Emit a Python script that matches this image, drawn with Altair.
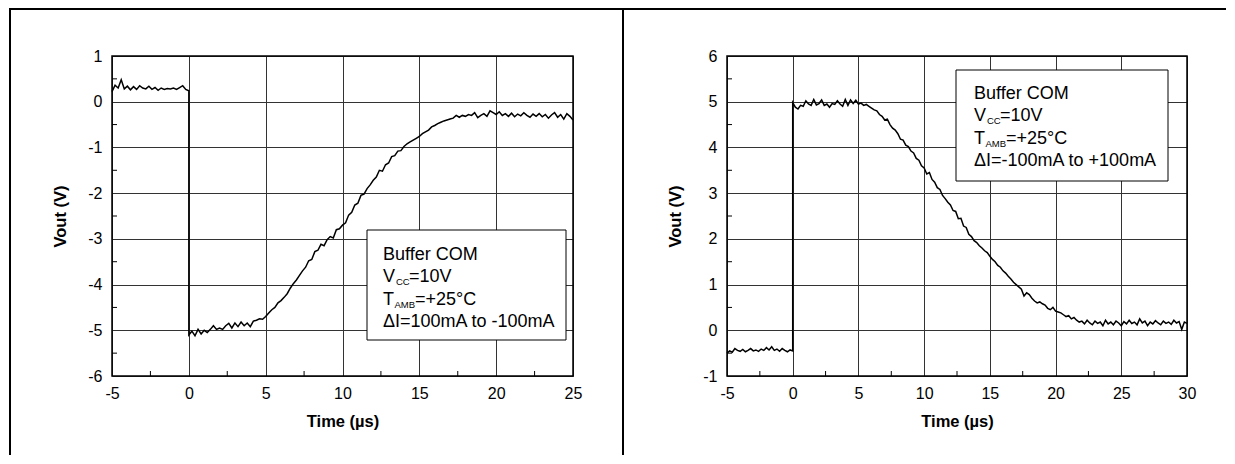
import altair as alt
import pandas as pd

FONT = "Liberation Sans"
STEP = 0.2  # sample spacing (µs) used when reading the traces

# ---------------- data ----------------
# Left panel: ΔI = 100mA to -100mA
left_pre_v = [0.22, 0.36, 0.30, 0.48, 0.28, 0.34, 0.26, 0.33, 0.27, 0.35,
              0.30, 0.28, 0.34, 0.27, 0.31, 0.25, 0.30, 0.27, 0.29, 0.28,
              0.30, 0.27, 0.31, 0.35, 0.27, 0.24]
left_post_v = [-5.10, -5.02, -5.12, -4.98, -5.08, -5.00, -5.05, -4.98, -4.90, -4.98,
               -4.95, -4.98, -4.90, -4.85, -4.95, -4.84, -4.92, -4.82, -4.90, -4.84,
               -4.92, -4.80, -4.78, -4.75, -4.76, -4.70, -4.62, -4.55, -4.50, -4.40,
               -4.35, -4.28, -4.20, -4.08, -3.98, -3.90, -3.80, -3.70, -3.62, -3.48,
               -3.45, -3.28, -3.25, -3.12, -3.15, -3.02, -2.95, -2.98, -2.80, -2.78,
               -2.70, -2.65, -2.48, -2.42, -2.26, -2.22, -2.05, -2.02, -1.90, -1.82,
               -1.72, -1.65, -1.50, -1.52, -1.38, -1.34, -1.20, -1.18, -1.08, -1.07,
               -0.98, -0.92, -0.88, -0.84, -0.80, -0.76, -0.70, -0.66, -0.62, -0.55,
               -0.52, -0.48, -0.45, -0.42, -0.40, -0.38, -0.36, -0.30, -0.34, -0.30,
               -0.32, -0.28, -0.30, -0.24, -0.35, -0.30, -0.26, -0.32, -0.20, -0.24,
               -0.28, -0.22, -0.30, -0.26, -0.32, -0.25, -0.33, -0.27, -0.31, -0.24,
               -0.30, -0.34, -0.27, -0.32, -0.26, -0.33, -0.28, -0.36, -0.29, -0.24,
               -0.34, -0.28, -0.38, -0.26, -0.32, -0.40]

# Right panel: ΔI = -100mA to +100mA
right_pre_v = [-0.50, -0.45, -0.48, -0.40, -0.44, -0.46, -0.42, -0.47, -0.44, -0.40,
               -0.45, -0.43, -0.46, -0.41, -0.44, -0.38, -0.43, -0.36, -0.44, -0.41,
               -0.46, -0.40, -0.44, -0.47, -0.43, -0.45]
right_post_v = [4.98, 4.88, 4.84, 4.92, 4.90, 5.02, 4.95, 4.92, 5.05, 4.93,
                4.96, 5.04, 4.92, 4.95, 4.88, 4.96, 4.94, 5.02, 4.95, 4.90,
                5.05, 4.92, 5.04, 4.96, 5.03, 4.95, 4.97, 4.92, 4.94, 4.90,
                4.86, 4.82, 4.80, 4.72, 4.68, 4.60, 4.62, 4.50, 4.42, 4.38,
                4.30, 4.18, 4.16, 4.05, 4.02, 3.92, 3.88, 3.76, 3.72, 3.60,
                3.55, 3.42, 3.45, 3.30, 3.24, 3.12, 3.08, 2.95, 2.88, 2.80,
                2.74, 2.62, 2.60, 2.44, 2.45, 2.28, 2.25, 2.10, 2.05, 1.96,
                1.92, 1.85, 1.80, 1.74, 1.70, 1.62, 1.55, 1.50, 1.42, 1.38,
                1.30, 1.25, 1.18, 1.12, 1.05, 1.00, 0.95, 0.90, 0.75, 0.82,
                0.78, 0.70, 0.64, 0.60, 0.62, 0.58, 0.55, 0.48, 0.45, 0.50,
                0.42, 0.40, 0.38, 0.34, 0.30, 0.32, 0.25, 0.28, 0.22, 0.18,
                0.20, 0.14, 0.22, 0.16, 0.12, 0.20, 0.15, 0.18, 0.10, 0.22,
                0.14, 0.18, 0.12, 0.20, 0.16, 0.10, 0.19, 0.14, 0.22, 0.15,
                0.18, 0.12, 0.25, 0.16, 0.20, 0.10, 0.18, 0.14, 0.21, 0.16,
                0.12, 0.20, 0.15, 0.18, 0.13, 0.22, 0.16, 0.19, 0.02, 0.18,
                0.15]

left_x_ticks = [-5, 0, 5, 10, 15, 20, 25]
left_y_ticks = [1, 0, -1, -2, -3, -4, -5, -6]
left_x_minor = [-2.5, 2.5, 7.5, 12.5, 17.5, 22.5]
left_y_minor = [0.5, -0.5, -1.5, -2.5, -3.5, -4.5, -5.5]

right_x_ticks = [-5, 0, 5, 10, 15, 20, 25, 30]
right_y_ticks = [6, 5, 4, 3, 2, 1, 0, -1]
right_x_minor = [-2.5, 2.5, 7.5, 12.5, 17.5, 22.5, 27.5]
right_y_minor = [5.5, 4.5, 3.5, 2.5, 1.5, 0.5, -0.5]

legend_title = "Buffer COM"
legend_vcc = ["V", "CC", "=10V"]
legend_tamb = ["T", "AMB", "=+25°C"]
left_legend_di = "ΔI=100mA to -100mA"
right_legend_di = "ΔI=-100mA to +100mA"

x_title = "Time (µs)"
y_title = "Vout (V)"

W, H = 461, 320


def trace(pre, post):
    rows = []
    n_pre = len(pre)
    for i, v in enumerate(pre):
        rows.append({"t": round(-STEP * (n_pre - 1 - i), 3), "v": v, "o": len(rows)})
    for i, v in enumerate(post):
        rows.append({"t": round(STEP * i, 3), "v": v, "o": len(rows)})
    return pd.DataFrame(rows)


one = pd.DataFrame({"k": [0]})


def txt(s, x, y, size):
    return alt.Chart(one).mark_text(
        align="left", baseline="alphabetic", font=FONT, fontSize=size, color="black"
    ).encode(x=alt.value(x), y=alt.value(y), text=alt.value(s))


def legend(bx, by, bw, bh, tx, base, dy, di):
    box = alt.Chart(one).mark_rect(fill="white", stroke="black", strokeWidth=1).encode(
        x=alt.value(bx), x2=alt.value(bx + bw), y=alt.value(by), y2=alt.value(by + bh))
    fs, ss = 18, 9.5
    parts = [box,
             txt(legend_title, tx, base, fs),
             txt(legend_vcc[0], tx, base + dy, fs),
             txt(legend_vcc[1], tx + 13, base + dy + 3, ss),
             txt(legend_vcc[2], tx + 26, base + dy, fs),
             txt(legend_tamb[0], tx, base + 2 * dy, fs),
             txt(legend_tamb[1], tx + 11.5, base + 2 * dy + 3, ss),
             txt(legend_tamb[2], tx + 32, base + 2 * dy, fs),
             txt(di, tx, base + 3 * dy, fs)]
    return parts


def panel(df, xdom, ydom, xt, yt, xm, ym, w, leg, extra):
    xs = alt.Scale(domain=xdom, nice=False, zero=False)
    ys = alt.Scale(domain=ydom, nice=False, zero=False)
    xax = alt.Axis(values=xt, title=x_title, grid=True, ticks=False, tickSize=0, domain=False,
                   labelPadding=9, labelFlush=False, labelOverlap=False,
                   labelExpr="'' + datum.value",
                   titleX=w / 2, titleY=50, titleBaseline="alphabetic", titleAlign="center")
    yax = alt.Axis(values=yt, title=y_title, grid=True, ticks=False, tickSize=0, domain=False,
                   labelPadding=10, labelFlush=False, labelOverlap=False,
                   labelExpr="'' + datum.value",
                   titleX=-47, titleY=H / 2, titleAngle=-90, titleBaseline="alphabetic",
                   titleAlign="center")
    line = alt.Chart(df).mark_line(color="black", strokeWidth=1.5).encode(
        x=alt.X("t:Q", scale=xs, axis=xax),
        y=alt.Y("v:Q", scale=ys, axis=yax),
        order="o:Q")
    xminor = alt.Chart(pd.DataFrame({"t": xm})).mark_rule(color="black", strokeWidth=1).encode(
        x=alt.X("t:Q", scale=xs), y=alt.value(H - 5), y2=alt.value(H))
    yminor = alt.Chart(pd.DataFrame({"v": ym})).mark_rule(color="black", strokeWidth=1).encode(
        y=alt.Y("v:Q", scale=ys), x=alt.value(0), x2=alt.value(5))
    border = alt.Chart(one).mark_rect(fill=None, stroke="black", strokeWidth=1.5).encode(
        x=alt.value(0), x2=alt.value(w), y=alt.value(0), y2=alt.value(H))
    layers = [line, xminor, yminor] + leg + [border] + extra
    return alt.layer(*layers).properties(width=w, height=H)


frame = [
    alt.Chart(one).mark_rule(color="black", strokeWidth=2).encode(
        x=alt.value(-102), x2=alt.value(-102), y=alt.value(-47), y2=alt.value(399)),
    alt.Chart(one).mark_rule(color="black", strokeWidth=2).encode(
        x=alt.value(-103), x2=alt.value(1114), y=alt.value(-47), y2=alt.value(-47)),
    alt.Chart(one).mark_rule(color="black", strokeWidth=2).encode(
        x=alt.value(511), x2=alt.value(511), y=alt.value(-47), y2=alt.value(399)),
]

left = panel(trace(left_pre_v, left_post_v), [-5, 25], [-6, 1],
             left_x_ticks, left_y_ticks, left_x_minor, left_y_minor, W,
             legend(255, 174, 199, 110, 271, 204, 22.3, left_legend_di), frame)

right = panel(trace(right_pre_v, right_post_v), [-5, 30], [-1, 6],
              right_x_ticks, right_y_ticks, right_x_minor, right_y_minor, 460,
              legend(229, 14, 212, 111, 247, 43, 22.3, right_legend_di), [])

chart = alt.hconcat(left, right, spacing=154, bounds="flush").properties(
    padding={"left": 0, "top": 0, "right": 0, "bottom": 0},
    autosize=alt.AutoSizeParams(type="pad"),
    background="white",
).configure_view(stroke=None).configure_axis(
    gridColor="#333333", gridWidth=1, gridOpacity=1,
    labelFont=FONT, labelFontSize=16, labelColor="black",
    titleFont=FONT, titleFontSize=16.5, titleFontWeight="bold", titleColor="black",
)

chart.save("out.html", embed_options={"renderer": "svg", "actions": False})
